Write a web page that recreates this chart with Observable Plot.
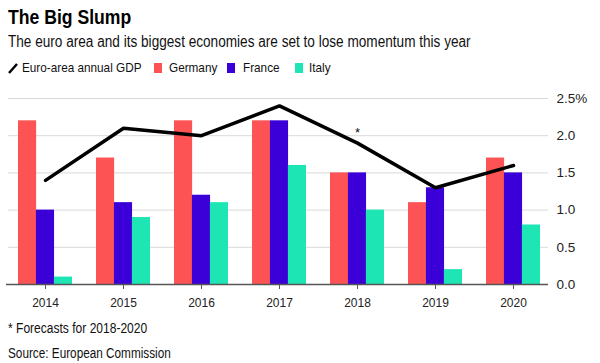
<!DOCTYPE html>
<html><head><meta charset="utf-8">
<script src="https://cdn.jsdelivr.net/npm/d3@7"></script>
<script src="https://cdn.jsdelivr.net/npm/@observablehq/plot@0.6"></script>
<style>
body{margin:0;background:#fff;font-family:"Liberation Sans",Arial,sans-serif;color:#111;}
#wrap{position:relative;width:600px;height:363px;overflow:hidden;background:#fff}
.t{position:absolute;left:8px;white-space:nowrap;transform-origin:0 50%}
#title{top:4px;font-size:20px;font-weight:bold;line-height:26px;color:#000;transform:scaleX(0.88)}
#sub{top:30px;font-size:16px;line-height:24px;color:#111;transform:scaleX(0.85)}
.lg{position:absolute;top:57px;height:22px;line-height:22px;font-size:13.5px;color:#111;white-space:nowrap;transform-origin:0 50%;transform:scaleX(0.87)}
.sw{position:absolute;top:63px;width:8px;height:10px}
#chart{position:absolute;left:0;top:82px}
#note{top:317px;font-size:14px;line-height:22px;transform:scaleX(0.86)}
#src{top:342px;font-size:14px;line-height:22px;transform:scaleX(0.84)}
</style></head>
<body><div id="wrap">
<div class="t" id="title">The Big Slump</div>
<div class="t" id="sub">The euro area and its biggest economies are set to lose momentum this year</div>
<div id="legend"></div>
<div id="chart"></div>
<div class="t" id="note">* Forecasts for 2018-2020</div>
<div class="t" id="src">Source: European Commission</div>
</div>
<script>
const years = ["2014","2015","2016","2017","2018","2019","2020"];
const euroGDP = [1.4, 2.1, 2.0, 2.4, 1.9, 1.3, 1.6];
const germany = [2.2, 1.7, 2.2, 2.2, 1.5, 1.1, 1.7];
const france  = [1.0, 1.1, 1.2, 2.2, 1.5, 1.3, 1.5];
const italy   = [0.1, 0.9, 1.1, 1.6, 1.0, 0.2, 0.8];
const seriesNames = ["Germany","France","Italy"];
const seriesColors = ["#fd5354","#3b00d8","#1de6b4"];
const lineLabel = "Euro-area annual GDP";
const yTicks = [0, 0.5, 1, 1.5, 2, 2.5];
const forecastYear = "2018";

const W = 600, H = 232, mL = 6, mR = 48, mT = 16, mB = 30;
const padIn = 0.31, padOut = 0.155;
const step = (W - mL - mR) / (years.length - padIn + 2 * padOut);
const bw = step * (1 - padIn);
const third = bw / 3;

const seriesVals = [germany, france, italy];
const barMarks = seriesVals.map((vals, k) =>
  Plot.barY(years.map((y, i) => ({year: y, value: vals[i]})), {
    x: "year", y: "value", fill: seriesColors[k],
    insetLeft: k * third, insetRight: (2 - k) * third
  })
);
const gdpRows = years.map((y, i) => ({year: y, gdp: euroGDP[i]}));

const chart = Plot.plot({
  width: W, height: H,
  marginLeft: mL, marginRight: mR, marginTop: mT, marginBottom: mB,
  style: {fontFamily: "'Liberation Sans', Arial, sans-serif", color: "#222", background: "#fff"},
  x: {domain: years, paddingInner: padIn, paddingOuter: padOut, label: null},
  y: {domain: [0, 2.5], label: null},
  marks: [
    Plot.ruleY(yTicks.filter(d => d > 0), {stroke: "#d9d9d9", strokeWidth: 1, insetLeft: 2, insetRight: 4}),
    ...barMarks,
    Plot.ruleY([0], {stroke: "#555", strokeWidth: 1.5, insetRight: 4}),
    Plot.axisX({tickSize: 5, tickPadding: 9, fontSize: 12, stroke: "#555", label: null}),
    Plot.axisY({anchor: "right", ticks: yTicks, tickSize: 0, tickPadding: 4, fontSize: 13.5,
      tickFormat: d => d === 2.5 ? "2.5%" : d.toFixed(1), label: null}),
    Plot.line(gdpRows, {x: "year", y: "gdp", stroke: "#000", strokeWidth: 3.5, strokeLinejoin: "miter"}),
    Plot.text(gdpRows.filter(d => d.year === forecastYear), {x: "year", y: "gdp", text: () => "*", dy: -10, fontSize: 13, fill: "#111"})
  ]
});
document.getElementById("chart").appendChild(chart);

const lg = document.getElementById("legend");
const swX = [154, 227, 295];
const txX = [169, 243, 309];
lg.innerHTML = `<svg style="position:absolute;left:8px;top:62px" width="10" height="12"><line x1="1" y1="11" x2="9" y2="2" stroke="#000" stroke-width="2.5"/></svg>` +
  `<div class="lg" style="left:22px">${lineLabel}</div>` +
  seriesNames.map((n, k) => `<span class="sw" style="left:${swX[k]}px;background:${seriesColors[k]}"></span><div class="lg" style="left:${txX[k]}px">${n}</div>`).join("");
</script>
</body></html>
